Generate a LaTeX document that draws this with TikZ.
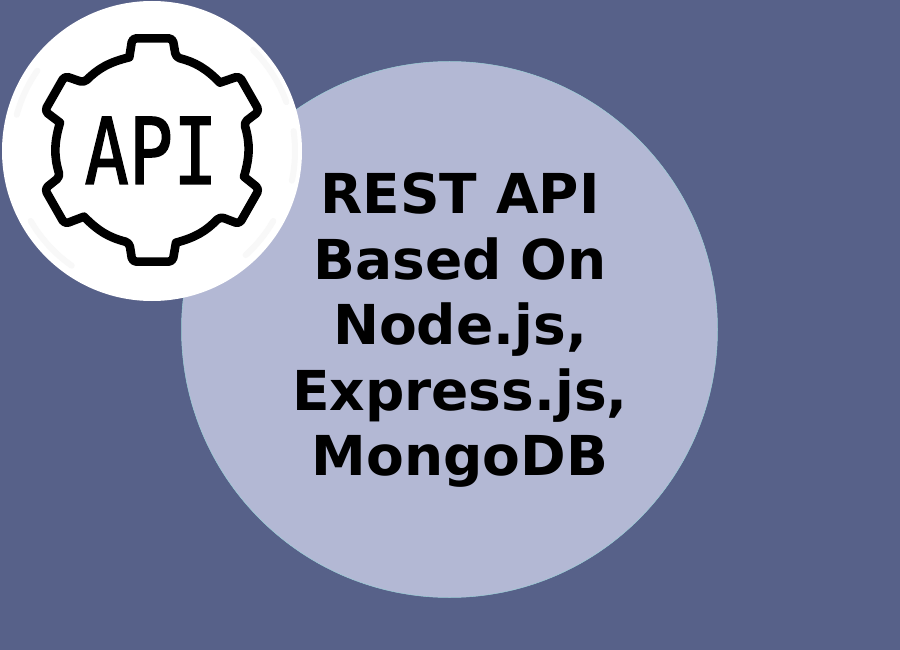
\documentclass[tikz,border=0pt]{standalone}
\usepackage{fontspec}
\setmainfont{DejaVu Sans}
\newfontfamily\iconfont[RawFeature={embolden=1.6}]{DejaVu Sans Mono}
\definecolor{bgblue}{HTML}{576189}
\definecolor{discblue}{HTML}{B3B8D4}
\definecolor{discedge}{HTML}{9CCFD6}
\definecolor{patchgray}{HTML}{F8F8F8}
\tikzset{
  gearline/.style={draw=black,line width=8.6pt,line join=round,line cap=round,rounded corners=4pt},
  headline/.style={font=\fontsize{55}{65.5}\selectfont\bfseries,align=center,text=black,inner sep=0pt},
  icontext/.style={font=\fontsize{92}{92}\iconfont,text=black,inner sep=0pt,xscale=.8},
  ringpatch/.style={draw=patchgray,line width=6pt,line cap=round},
}
\begin{document}
\begin{tikzpicture}[x=1pt,y=-1pt]
\useasboundingbox (0,0) rectangle (900,650);
\fill[bgblue] (0,0) rectangle (900,650);
\begin{scope}
\clip (0,0) rectangle (900,597);
\fill[discblue,draw=discedge,line width=.5pt] (449.5,329.5) circle [radius=268];
\end{scope}
\node[headline] (title) at (460,330.5) {REST API\\Based On\\Node.js,\\Express.js,\\MongoDB};
\fill[white] (152,151) circle [radius=150];
\draw[ringpatch] (152,151) ++(-45:143) arc[start angle=-45,end angle=-20,radius=143];
\draw[ringpatch] (152,151) ++(-8:143) arc[start angle=-8,end angle=12,radius=143];
\draw[ringpatch] (152,151) ++(30:140) arc[start angle=30,end angle=48,radius=140];
\draw[ringpatch] (152,151) ++(125:140) arc[start angle=125,end angle=150,radius=140];
\draw[ringpatch] (152,151) ++(195:140) arc[start angle=195,end angle=215,radius=140];
\begin{scope}[x=.3333pt,y=-.3333pt]
\draw[gearline]
  (388,172) -- (397,115) -- (518,115) -- (528,172)
  [sharp corners] to[bend left=15.7] (660,248) [rounded corners=4pt]
  -- (718,228) -- (778,333) -- (732,368)
  [sharp corners] to[bend left=16.5] (732,530) [rounded corners=4pt]
  -- (778,567) -- (718,672) -- (660,650)
  [sharp corners] to[bend left=15.7] (528,728) [rounded corners=4pt]
  -- (518,785) -- (397,785) -- (388,728)
  [sharp corners] to[bend left=15.7] (252,650) [rounded corners=4pt]
  -- (194,672) -- (134,567) -- (180,530)
  [sharp corners] to[bend left=16.5] (180,368) [rounded corners=4pt]
  -- (134,333) -- (194,228) -- (252,248)
  [sharp corners] to[bend left=15.7] (388,172);
\end{scope}
\node[icontext,anchor=base] (icon) at (151,184) {API};
\end{tikzpicture}
\end{document}
